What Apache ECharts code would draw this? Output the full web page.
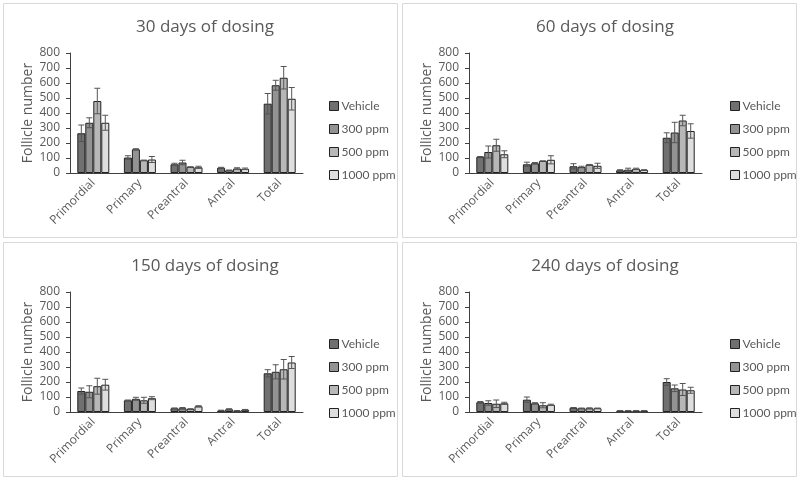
<!DOCTYPE html>
<html><head><meta charset="utf-8">
<script src="https://cdn.jsdelivr.net/npm/echarts@6/dist/echarts.min.js"></script>
<style>html,body{margin:0;padding:0;background:#fff}#c{width:800px;height:479px}</style>
</head><body><div id="c"></div>
<script>
var categories = ['Primordial','Primary','Preantral','Antral','Total'];
var doses = ['Vehicle','300 ppm','500 ppm','1000 ppm'];
var yTicks = [0,100,200,300,400,500,600,700,800];
var panelTitles = ['30 days of dosing','60 days of dosing','150 days of dosing','240 days of dosing'];

// means [dose][category]
var d30  = [[265,103,58,35,462],[335,158,70,18,585],[480,85,40,30,635],[335,90,38,28,495]];
var e30  = [[55,12,7,3,68],[33,4,15,2,33],[85,0,2,5,75],[50,20,7,5,75]];
var d60  = [[108,58,45,18,235],[140,65,40,22,270],[185,80,55,28,350],[125,88,48,20,280]];
var e60  = [[2,14,17,4,33],[40,5,5,10,68],[40,0,2,4,35],[23,27,17,2,48]];
var d150 = [[140,78,25,10,258],[135,88,25,18,268],[172,78,20,8,285],[182,92,38,15,330]];
var e150 = [[20,2,2,2,24],[40,10,5,4,47],[53,20,2,2,65],[36,10,4,2,40]];
var d240 = [[65,82,28,8,200],[60,58,25,8,158],[55,45,25,8,150],[58,48,25,8,145]];
var e240 = [[5,18,2,1,22],[15,4,1,1,22],[25,17,3,1,40],[7,4,1,1,20]];

var panelData = [d30,d60,d150,d240];
var panelErr = [e30,e60,e150,e240];
var colors = ['#707070','#939393','#b7b7b7','#dedede'];
var textColor = '#595959';
var BW = 8;

var grids = [
  {left:70, top:53, width:233, height:120},
  {left:469, top:53, width:233, height:120},
  {left:70, top:292, width:233, height:120},
  {left:469, top:292, width:233, height:120}
];
var titlePos = [[200,14],[600,14],[200,253],[600,253]];
var legendPos = [[324,95],[725,95],[324,333],[725,333]];

var option = {
  animation:false,
  backgroundColor:'#fff',
  textStyle:{fontFamily:'Open Sans'},
  title:[], legend:[], grid:[], xAxis:[], yAxis:[], series:[],
  graphic:[
    {type:'rect',shape:{x:3.5,y:3.5,width:394,height:234},style:{fill:'none',stroke:'#d9d9d9',lineWidth:1}},
    {type:'rect',shape:{x:402.5,y:3.5,width:394,height:234},style:{fill:'none',stroke:'#d9d9d9',lineWidth:1}},
    {type:'rect',shape:{x:3.5,y:242.5,width:394,height:234},style:{fill:'none',stroke:'#d9d9d9',lineWidth:1}},
    {type:'rect',shape:{x:402.5,y:242.5,width:394,height:234},style:{fill:'none',stroke:'#d9d9d9',lineWidth:1}}
  ]
};

for (var p=0;p<4;p++){
  option.title.push({text:panelTitles[p],left:titlePos[p][0],top:titlePos[p][1],textAlign:'center',
    textStyle:{fontSize:17,fontWeight:'normal',color:textColor,fontFamily:'Open Sans'}});
  option.legend.push({data:doses,orient:'vertical',left:legendPos[p][0],top:legendPos[p][1],
    icon:'rect',itemWidth:9,itemHeight:9,itemGap:11,
    itemStyle:{borderColor:'#222',borderWidth:1},
    textStyle:{fontSize:12,color:textColor,fontFamily:'Lato',padding:[0,0,0,-2]}});
  option.grid.push(grids[p]);
  option.xAxis.push({type:'category',gridIndex:p,data:categories,
    axisLine:{lineStyle:{color:'#404040',width:1}},axisTick:{show:false},
    axisLabel:{rotate:45,fontSize:12,color:textColor,margin:8}});
  option.yAxis.push({type:'value',gridIndex:p,min:0,max:800,interval:100,
    name:'Follicle number',nameLocation:'middle',nameGap:35,
    nameTextStyle:{fontSize:14,color:textColor},
    axisLine:{show:true,lineStyle:{color:'#404040'}},
    axisTick:{show:true,length:4,lineStyle:{color:'#404040'}},
    splitLine:{show:false},
    axisLabel:{fontSize:12,color:textColor,margin:10,
      formatter:function(v){return yTicks.indexOf(v)>=0?String(v):'';}}});
  for (var s=0;s<4;s++){
    option.series.push({type:'bar',name:doses[s],xAxisIndex:p,yAxisIndex:p,
      data:panelData[p][s],barWidth:BW,barGap:'0%',
      itemStyle:{color:colors[s],borderColor:'#222',borderWidth:1}});
  }
  for (var s2=0;s2<4;s2++){
    var ed = [];
    for (var c=0;c<5;c++){
      var m = panelData[p][s2][c], e = panelErr[p][s2][c];
      ed.push([c, m-e, m+e]);
    }
    (function(si){
      option.series.push({type:'custom',name:doses[si]+' err',xAxisIndex:p,yAxisIndex:p,
        data:ed,z:5,silent:true,
        renderItem:function(params,api){
          var ci = api.value(0);
          var lo = api.coord([ci, api.value(1)]);
          var hi = api.coord([ci, api.value(2)]);
          var x = lo[0] + (-2*BW + (si+0.5)*BW);
          var cap = 3;
          var st = {stroke:'#555',lineWidth:1};
          return {type:'group',children:[
            {type:'line',shape:{x1:x,y1:lo[1],x2:x,y2:hi[1]},style:st},
            {type:'line',shape:{x1:x-cap,y1:hi[1],x2:x+cap,y2:hi[1]},style:st},
            {type:'line',shape:{x1:x-cap,y1:lo[1],x2:x+cap,y2:lo[1]},style:st}
          ]};
        }});
    })(s2);
  }
}

var chart = echarts.init(document.getElementById('c'));
chart.setOption(option);
</script></body></html>
